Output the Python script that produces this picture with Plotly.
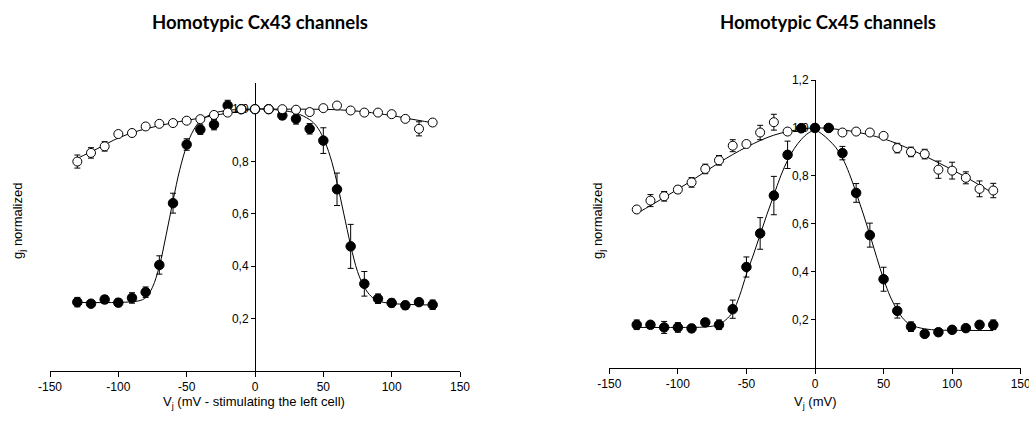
import plotly.graph_objects as go

# --- data ---
VJ = [-130, -120, -110, -100, -90, -80, -70, -60, -50, -40, -30, -20, -10, 0,
      10, 20, 30, 40, 50, 60, 70, 80, 90, 100, 110, 120, 130]

# Cx43, open circles
cx43_open = [0.800, 0.833, 0.858, 0.905, 0.909, 0.934, 0.944, 0.947, 0.956, 0.962, 0.978, 0.987, 1.000, 1.000,
             1.000, 1.000, 0.998, 0.989, 1.004, 1.014, 0.995, 0.987, 0.987, 0.981, 0.963, 0.925, 0.949]
cx43_open_err = [0.025, 0.020, 0.018, 0.010, 0.010, 0.010, 0.008, 0.008, 0.008, 0.008, 0.010, 0.008, 0.005, 0.005,
                 0.005, 0.005, 0.008, 0.008, 0.008, 0.010, 0.008, 0.008, 0.008, 0.008, 0.008, 0.027, 0.012]
# Cx43, filled circles
cx43_fill = [0.263, 0.257, 0.273, 0.261, 0.279, 0.301, 0.405, 0.641, 0.865, 0.922, 0.941, 1.014, 1.000, 1.000,
             1.000, 0.976, 0.963, 0.925, 0.880, 0.694, 0.476, 0.333, 0.276, 0.260, 0.251, 0.263, 0.253]
cx43_fill_err = [0.018, 0.012, 0.015, 0.015, 0.020, 0.020, 0.035, 0.038, 0.022, 0.018, 0.020, 0.020, 0.010, 0.010,
                 0.010, 0.015, 0.020, 0.020, 0.049, 0.062, 0.084, 0.047, 0.018, 0.015, 0.015, 0.012, 0.018]

# Cx45, open circles
cx45_open = [0.660, 0.697, 0.715, 0.743, 0.773, 0.829, 0.865, 0.926, 0.933, 0.981, 1.024, 0.985, 0.999, 1.000,
             1.000, 0.981, 0.985, 0.981, 0.967, 0.916, 0.900, 0.891, 0.826, 0.822, 0.792, 0.746, 0.739]
cx45_open_err = [0.012, 0.025, 0.020, 0.015, 0.020, 0.020, 0.020, 0.025, 0.010, 0.030, 0.033, 0.010, 0.005, 0.005,
                 0.005, 0.008, 0.008, 0.010, 0.008, 0.020, 0.020, 0.020, 0.036, 0.035, 0.025, 0.033, 0.030]
# Cx45, filled circles
cx45_fill = [0.179, 0.179, 0.168, 0.168, 0.164, 0.189, 0.179, 0.244, 0.420, 0.560, 0.718, 0.888, 0.999, 1.000,
             1.000, 0.895, 0.729, 0.553, 0.369, 0.237, 0.171, 0.141, 0.148, 0.158, 0.165, 0.179, 0.179]
cx45_fill_err = [0.020, 0.012, 0.025, 0.020, 0.015, 0.015, 0.020, 0.038, 0.042, 0.066, 0.080, 0.057, 0.008, 0.008,
                 0.008, 0.028, 0.039, 0.050, 0.050, 0.030, 0.020, 0.015, 0.015, 0.012, 0.010, 0.015, 0.020]

# fitted curves
fit43_open_v = [-130, -115, -100, -85, -70, -55, -40, -20, 0, 20, 40, 60, 80, 90, 100, 110, 120, 130]
fit43_open_g = [0.812, 0.850, 0.890, 0.918, 0.937, 0.953, 0.966, 0.985, 1.000, 1.000, 1.000, 0.998, 0.990,
                0.983, 0.976, 0.966, 0.957, 0.948]
fit43_fill_v = [-130, -100, -85, -80, -75, -70, -65, -60, -55, -50, -45, -40, -30, -20, -10, 0, 10, 20, 30,
                40, 45, 50, 55, 60, 65, 70, 75, 80, 85, 90, 100, 130]
fit43_fill_g = [0.262, 0.262, 0.268, 0.280, 0.320, 0.400, 0.520, 0.650, 0.770, 0.860, 0.920, 0.955, 0.985,
                0.995, 1.000, 1.000, 1.000, 0.995, 0.985, 0.960, 0.935, 0.890, 0.820, 0.720, 0.600, 0.480,
                0.380, 0.320, 0.285, 0.268, 0.258, 0.252]
fit45_open_v = [-130, -110, -90, -70, -50, -30, -10, 0, 10, 30, 50, 70, 90, 110, 130]
fit45_open_g = [0.643, 0.710, 0.780, 0.855, 0.920, 0.970, 0.995, 1.000, 0.998, 0.983, 0.955, 0.910, 0.855,
                0.795, 0.727]
fit45_fill_v = [-130, -100, -80, -70, -65, -60, -55, -50, -45, -40, -35, -30, -25, -20, -15, -10, -5, 0,
                5, 10, 15, 20, 25, 30, 35, 40, 45, 50, 55, 60, 65, 70, 80, 90, 100, 130]
fit45_fill_g = [0.168, 0.168, 0.170, 0.180, 0.200, 0.232, 0.300, 0.390, 0.470, 0.555, 0.640, 0.720, 0.800,
                0.865, 0.915, 0.952, 0.978, 0.990, 0.975, 0.950, 0.920, 0.875, 0.810, 0.730, 0.645, 0.555,
                0.460, 0.370, 0.295, 0.240, 0.200, 0.178, 0.162, 0.157, 0.156, 0.155]

X_TICKS = [-150, -100, -50, 0, 50, 100, 150]
Y_TICKS_43 = [0.2, 0.4, 0.6, 0.8, 1.0]
Y_TICKS_45 = [0.2, 0.4, 0.6, 0.8, 1.0, 1.2]

TICK_FONT = dict(family="Liberation Sans, Arial", size=12, color="black")

W, H = 1029, 421


def px(x):
    return x / W


def py(y):
    return (H - y) / H


def fit_line(v, g, xa, ya):
    return go.Scatter(x=v, y=g, mode="lines", line=dict(color="black", width=1, shape="spline"),
                      xaxis=xa, yaxis=ya, hoverinfo="skip")


def dots(g, err, filled, xa, ya):
    return go.Scatter(x=VJ, y=g, mode="markers", xaxis=xa, yaxis=ya,
                      error_y=dict(type="data", array=err, color="black", thickness=1, width=3),
                      marker=dict(symbol="circle", size=9.5 if filled else 9,
                                  color="black" if filled else "white",
                                  line=dict(color="black", width=1)))


fig = go.Figure()
# left panel: open circles on top
fig.add_trace(fit_line(fit43_open_v, fit43_open_g, "x", "y"))
fig.add_trace(fit_line(fit43_fill_v, fit43_fill_g, "x", "y"))
fig.add_trace(dots(cx43_fill, cx43_fill_err, True, "x", "y"))
fig.add_trace(dots(cx43_open, cx43_open_err, False, "x", "y"))
# right panel: filled circles on top
fig.add_trace(fit_line(fit45_open_v, fit45_open_g, "x2", "y2"))
fig.add_trace(fit_line(fit45_fill_v, fit45_fill_g, "x2", "y2"))
fig.add_trace(dots(cx45_open, cx45_open_err, False, "x2", "y2"))
fig.add_trace(dots(cx45_fill, cx45_fill_err, True, "x2", "y2"))


def xaxis(dom, anchor):
    return dict(domain=dom, range=[-150, 150], anchor=anchor, tickvals=X_TICKS,
                ticktext=[str(t) for t in X_TICKS], ticks="outside", ticklen=5, tickcolor="black",
                showline=True, linecolor="black", linewidth=1, showgrid=False, zeroline=False,
                tickfont=TICK_FONT, layer="below traces", automargin=False, ticklabeloverflow="allow")


def yaxis(dom, rng, ticks, pos):
    return dict(domain=dom, range=rng, anchor="free", position=pos, tickvals=ticks, tickformat=".1f",
                ticks="outside", ticklen=4, tickcolor="black", showline=True, linecolor="black",
                linewidth=1, showgrid=False, zeroline=False, tickfont=TICK_FONT, layer="below traces",
                automargin=False)


fig.update_layout(
    width=W, height=H, margin=dict(l=0, r=0, t=0, b=0, pad=0), autosize=False,
    paper_bgcolor="white", plot_bgcolor="white", showlegend=False, separators=", ",
    xaxis=xaxis([px(50), px(460)], "y"),
    yaxis=yaxis([py(371), py(83)], [0, 1.1], Y_TICKS_43, px(255)),
    xaxis2=xaxis([px(609.3), px(1020.7)], "y2"),
    yaxis2=yaxis([py(367.7), py(80)], [0, 1.2], Y_TICKS_45, px(815)),
)

title_font = dict(family="Lato", size=18.5, color="black")
label_font = dict(family="Liberation Sans, Arial", size=13, color="black")
notes = [
    (260, 22, "<b>Homotypic Cx43 channels</b>", title_font, 0),
    (828, 22, "<b>Homotypic Cx45 channels</b>", title_font, 0),
    (254, 402, "V<sub>j</sub> (mV - stimulating the left cell)", label_font, 0),
    (815, 402, "V<sub>j</sub> (mV)", label_font, 0),
    (18, 221, "g<sub>j</sub> normalized", label_font, -90),
    (598, 221, "g<sub>j</sub> normalized", label_font, -90),
]
for x0, y0, txt, f, ang in notes:
    fig.add_annotation(x=px(x0), y=py(y0), xref="paper", yref="paper", text=txt, showarrow=False,
                       font=f, textangle=ang, xanchor="center", yanchor="middle")

# drop the browser's default body margin so the figure fills the window
fig.write_html("out.html", config={"displayModeBar": False},
               post_script="document.body.style.margin='0px';document.body.style.overflow='hidden';")
